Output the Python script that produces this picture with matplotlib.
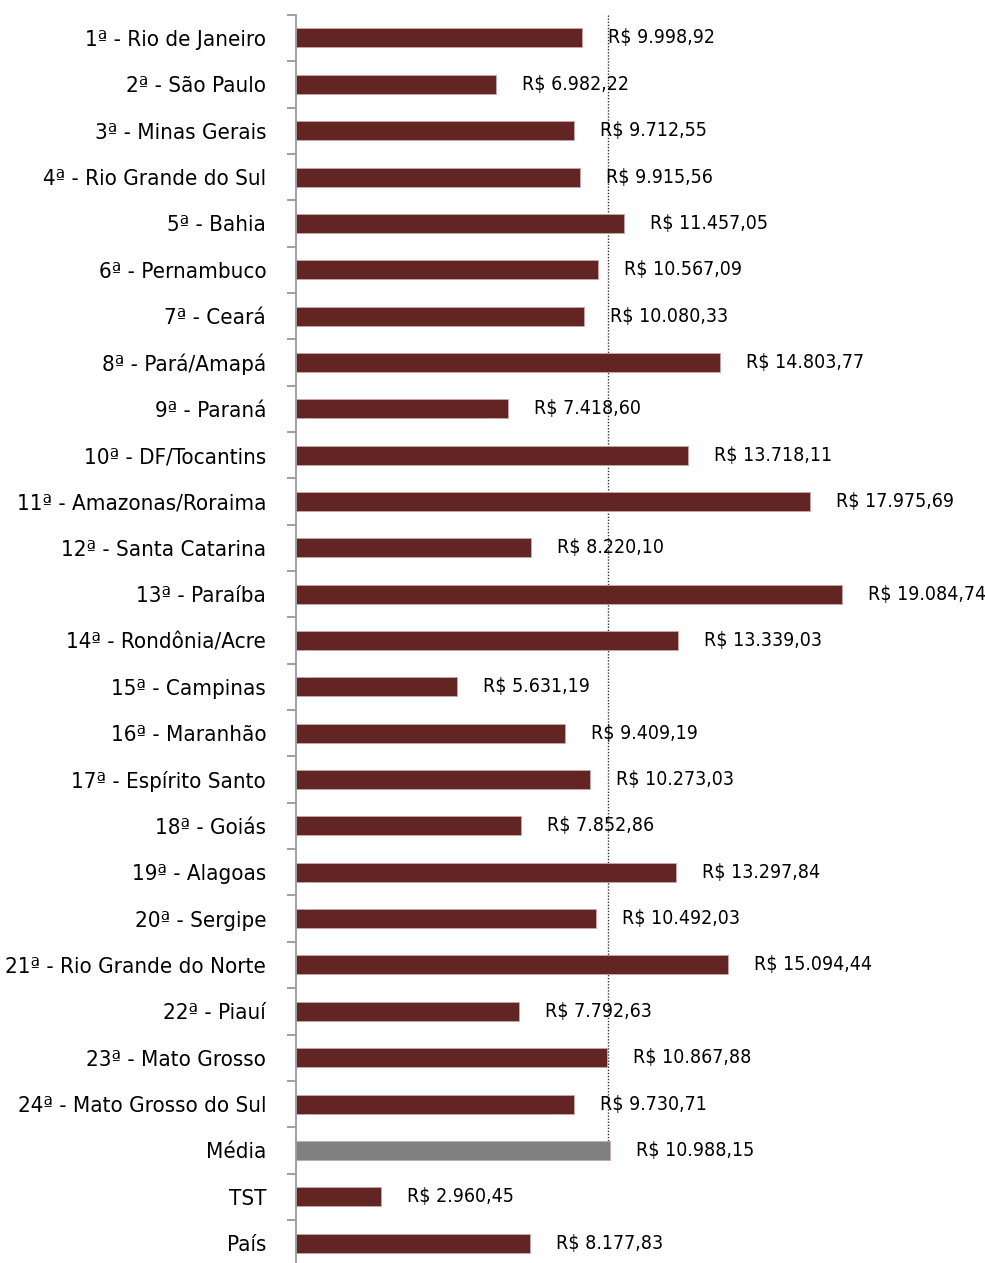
import matplotlib
matplotlib.use("Agg")
import matplotlib.pyplot as plt
import numpy as np

categories = [
    "1ª - Rio de Janeiro", "2ª - São Paulo", "3ª - Minas Gerais", "4ª - Rio Grande do Sul",
    "5ª - Bahia", "6ª - Pernambuco", "7ª - Ceará", "8ª - Pará/Amapá", "9ª - Paraná",
    "10ª - DF/Tocantins", "11ª - Amazonas/Roraima", "12ª - Santa Catarina", "13ª - Paraíba",
    "14ª - Rondônia/Acre", "15ª - Campinas", "16ª - Maranhão", "17ª - Espírito Santo",
    "18ª - Goiás", "19ª - Alagoas", "20ª - Sergipe", "21ª - Rio Grande do Norte",
    "22ª - Piauí", "23ª - Mato Grosso", "24ª - Mato Grosso do Sul", "Média", "TST", "País",
]
values = [
    9998.92, 6982.22, 9712.55, 9915.56, 11457.05, 10567.09, 10080.33, 14803.77, 7418.60,
    13718.11, 17975.69, 8220.10, 19084.74, 13339.03, 5631.19, 9409.19, 10273.03, 7852.86,
    13297.84, 10492.03, 15094.44, 7792.63, 10867.88, 9730.71, 10988.15, 2960.45, 8177.83,
]
value_labels = [
    "R$ 9.998,92", "R$ 6.982,22", "R$ 9.712,55", "R$ 9.915,56", "R$ 11.457,05",
    "R$ 10.567,09", "R$ 10.080,33", "R$ 14.803,77", "R$ 7.418,60", "R$ 13.718,11",
    "R$ 17.975,69", "R$ 8.220,10", "R$ 19.084,74", "R$ 13.339,03", "R$ 5.631,19",
    "R$ 9.409,19", "R$ 10.273,03", "R$ 7.852,86", "R$ 13.297,84", "R$ 10.492,03",
    "R$ 15.094,44", "R$ 7.792,63", "R$ 10.867,88", "R$ 9.730,71", "R$ 10.988,15",
    "R$ 2.960,45", "R$ 8.177,83",
]
media_index = categories.index("Média")

plt.rcParams['font.family'] = ['DejaVu Sans']
plt.rcParams['font.stretch'] = 'condensed'

W, H = 985, 1263
fig = plt.figure(figsize=(W / 100, H / 100), dpi=100)
n = len(categories)
row_px = 46.35
top_px = 14.8
ax_h_px = n * row_px
left_px = 296
ax = fig.add_axes([left_px / W, (H - top_px - ax_h_px) / H, (W - left_px) / W, ax_h_px / H])

colors = ['#632424'] * n
colors[media_index] = '#808080'
y = np.arange(n)
ax.barh(y, values, height=0.41, color=colors, edgecolor='#c8a8a8', linewidth=0.6, zorder=2)

xmax = (W - left_px) / 0.02861
ax.set_xlim(0, xmax)
ax.set_ylim(n - 0.5, -0.5)

offset = 26 / 0.02861
for yi, v, lab in zip(y, values, value_labels):
    ax.text(v + offset, yi, lab, va='center', ha='left', fontsize=14, color='black',
            fontstretch='condensed', zorder=3)

media = values[media_index]
ax.plot([media - 90, media - 90], [-0.5, media_index + 0.2], linestyle=(0, (1, 1.2)),
        color='#333333', linewidth=1.0, zorder=1)

ax.set_yticks(y)
ax.set_yticklabels(categories, fontsize=16, fontstretch='condensed')
ax.tick_params(axis='y', which='major', length=0, pad=21.5)
ax.set_yticks(np.arange(-0.5, n, 1.0), minor=True)
ax.tick_params(axis='y', which='minor', length=6.5, width=1.3, color='#999999')
ax.set_xticks([])
for s in ['top', 'right', 'bottom']:
    ax.spines[s].set_visible(False)
ax.spines['left'].set_color('#999999')
ax.spines['left'].set_linewidth(1.3)

fig.savefig('out.png', dpi=100)
